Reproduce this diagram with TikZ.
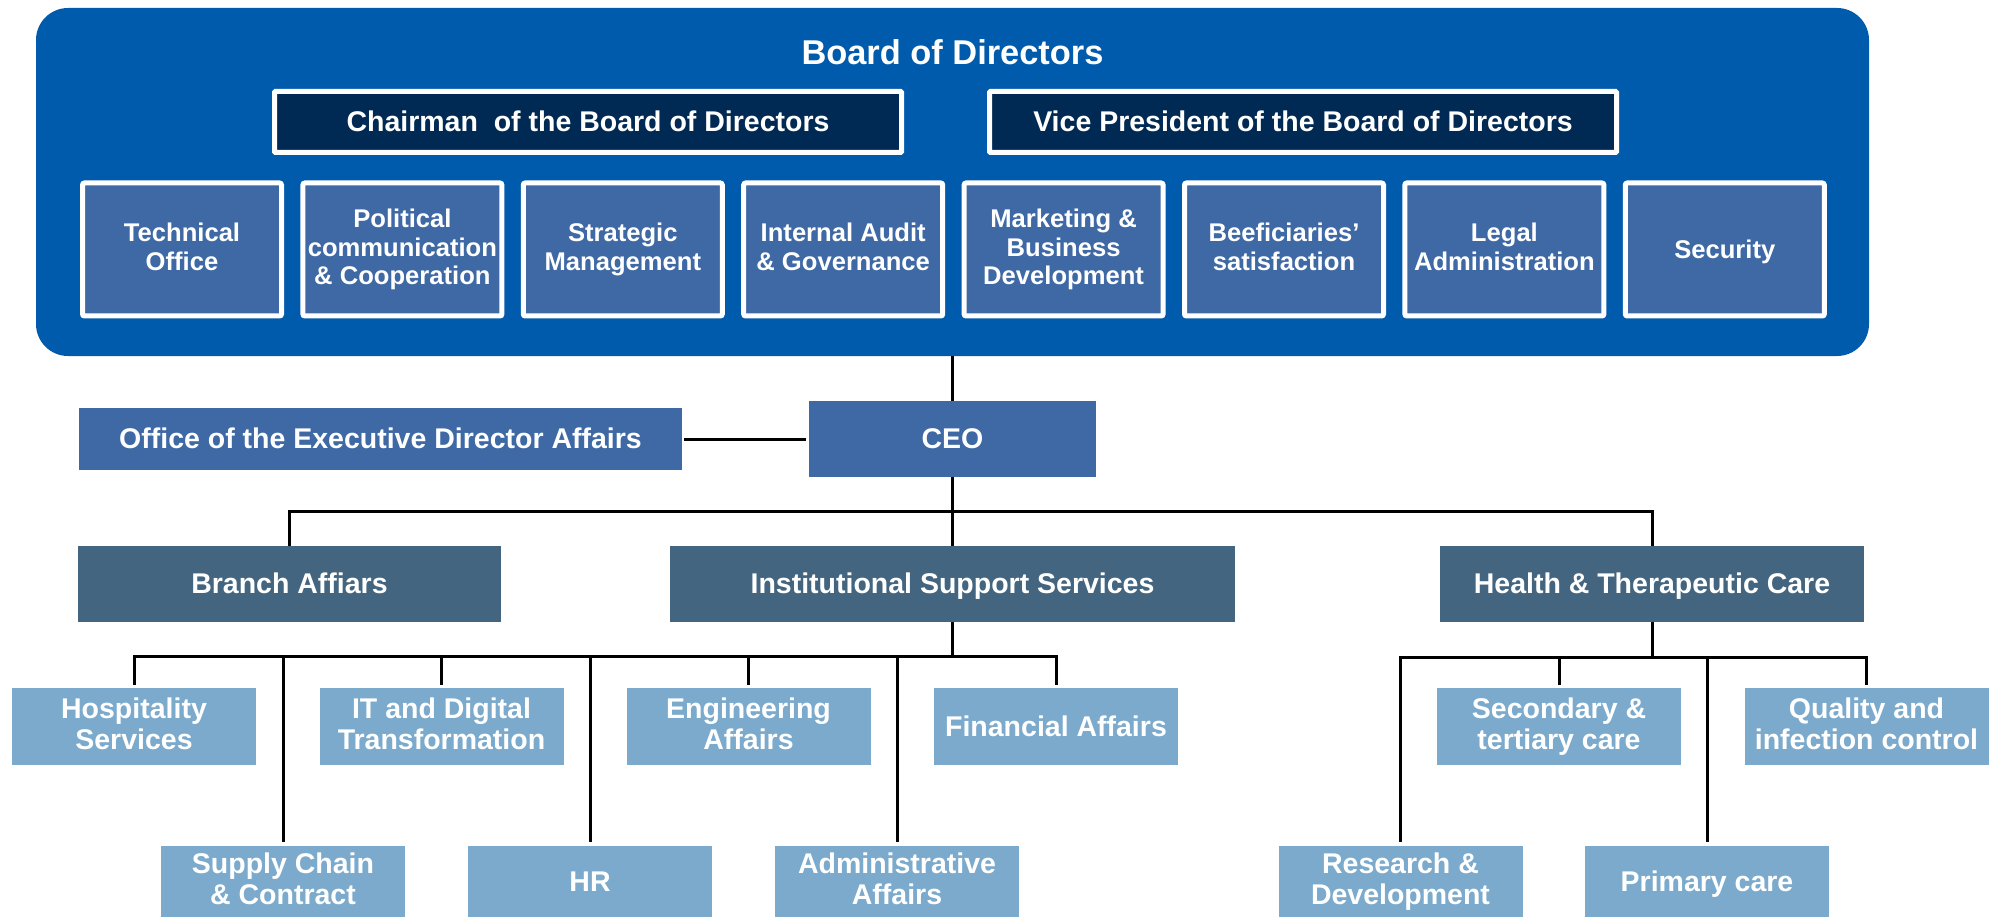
\documentclass[tikz,border=0pt]{standalone}
\usepackage{fontspec}
\setmainfont{Liberation Sans}
\definecolor{boardblue}{RGB}{0,91,172}
\definecolor{navy}{RGB}{0,42,84}
\definecolor{midblue}{RGB}{62,105,165}
\definecolor{slate}{RGB}{67,101,127}
\definecolor{lightblue}{RGB}{123,170,204}
\newcommand\pptop{\rule{0pt}{0.905em}}
\newcommand\ppbot{\rule[-0.212em]{0pt}{0.212em}}
\tikzset{
  base/.style={draw=none, text=white, align=center, inner sep=0pt, font=\fontsize{28.5}{31.5}\selectfont\bfseries,
    execute at begin node=\pptop, execute at end node=\ppbot},
  execbox/.style={base, fill=midblue},
  divbox/.style={base, fill=slate, minimum height=76},
  leafbox/.style={base, fill=lightblue, minimum width=244, minimum height=77},
  leaftwo/.style={leafbox, minimum height=71},
  bodbox/.style={base, fill=midblue, draw=white, line width=5, rounded corners=2, minimum width=199, minimum height=133, font=\fontsize{25.6}{28.5}\selectfont\bfseries},
  headbox/.style={base, fill=navy, draw=white, line width=5, rounded corners=1, minimum width=627, minimum height=61},
  conn/.style={draw=black, line width=3}
}
\begin{document}
\begin{tikzpicture}[x=1pt,y=-1pt]
\useasboundingbox (0,0) rectangle (2000,917);
% Board
\node[base, fill=boardblue, rounded corners=32, minimum width=1833, minimum height=348] (board) at (952.5,182) {};
\node[base, font=\fontsize{34.4}{40}\selectfont\bfseries] (title) at (952.5,53) {Board of Directors};
\node[headbox] (chair) at (588,122) {Chairman~ of the Board of Directors};
\node[headbox] (vice) at (1303,122) {Vice President of the Board of Directors};
\node[bodbox] (b1) at (182,249.5) {Technical\\Office};
\node[bodbox] (b2) at (402.4,249.5) {Political\\communication\\\& Cooperation};
\node[bodbox] (b3) at (622.8,249.5) {Strategic\\Management};
\node[bodbox] (b4) at (843.2,249.5) {Internal Audit\\\& Governance};
\node[bodbox] (b5) at (1063.6,249.5) {Marketing \&\\Business\\Development};
\node[bodbox] (b6) at (1284,249.5) {Beeficiaries’\\satisfaction};
\node[bodbox] (b7) at (1504.4,249.5) {Legal\\Administration};
\node[bodbox] (b8) at (1724.8,249.5) {Security};
% Executive
\node[execbox, minimum width=603, minimum height=62] (office) at (380.5,439) {Office of the Executive Director Affairs};
\node[execbox, minimum width=287, minimum height=76] (ceo) at (952.5,439) {CEO};
% Divisions
\node[divbox, minimum width=423] (branch) at (289.5,584) {Branch Affiars};
\node[divbox, minimum width=565] (inst) at (952.5,584) {Institutional Support Services};
\node[divbox, minimum width=424] (health) at (1652,584) {Health \& Therapeutic Care};
% Row 1
\node[leafbox] (hosp) at (134,726.5) {Hospitality\\Services};
\node[leafbox] (it) at (441.5,726.5) {IT and Digital\\Transformation};
\node[leafbox] (eng) at (748.5,726.5) {Engineering\\Affairs};
\node[leafbox] (fin) at (1056,726.5) {Financial Affairs};
\node[leafbox] (sec) at (1559,726.5) {Secondary \&\\tertiary care};
\node[leafbox] (qual) at (1866.5,726.5) {Quality and\\infection control};
% Row 2
\node[leaftwo] (supply) at (283,881.5) {Supply Chain\\\& Contract};
\node[leaftwo] (hr) at (590,881.5) {HR};
\node[leaftwo] (admin) at (897,881.5) {Administrative\\Affairs};
\node[leaftwo] (research) at (1400.5,881.5) {Research \&\\Development};
\node[leaftwo] (primary) at (1707,881.5) {Primary care};
% Bus coordinates
\coordinate (bus1) at (952.5,511);
\coordinate (bus2) at (952.5,656);
\coordinate (bus3) at (1652,657);
% Connectors
\draw[conn] (board.south) -- (ceo.north);
\draw[conn] ([xshift=2pt]office.east) -- ([xshift=-3pt]ceo.west);
\draw[conn] (ceo.south) -- (inst.north);
\draw[conn] (branch.north) -- (branch.north |- bus1) -- (health.north |- bus1) -- (health.north);
\draw[conn] (inst.south) -- (bus2);
\draw[conn] ([yshift=3pt]hosp.north) -- (hosp.north |- bus2) -- (fin.north |- bus2) -- ([yshift=3pt]fin.north);
\draw[conn] ([yshift=3pt]it.north) -- (it.north |- bus2);
\draw[conn] ([yshift=3pt]eng.north) -- (eng.north |- bus2);
\draw[conn] ([yshift=4pt]supply.north) -- (supply.north |- bus2);
\draw[conn] ([yshift=4pt]hr.north) -- (hr.north |- bus2);
\draw[conn] ([yshift=4pt]admin.north) -- (admin.north |- bus2);
\draw[conn] (health.south) -- (bus3);
\draw[conn] ([yshift=4pt]research.north) -- (research.north |- bus3) -- (qual.north |- bus3) -- ([yshift=3pt]qual.north);
\draw[conn] ([yshift=3pt]sec.north) -- (sec.north |- bus3);
\draw[conn] ([yshift=4pt]primary.north) -- (primary.north |- bus3);
\end{tikzpicture}
\end{document}
